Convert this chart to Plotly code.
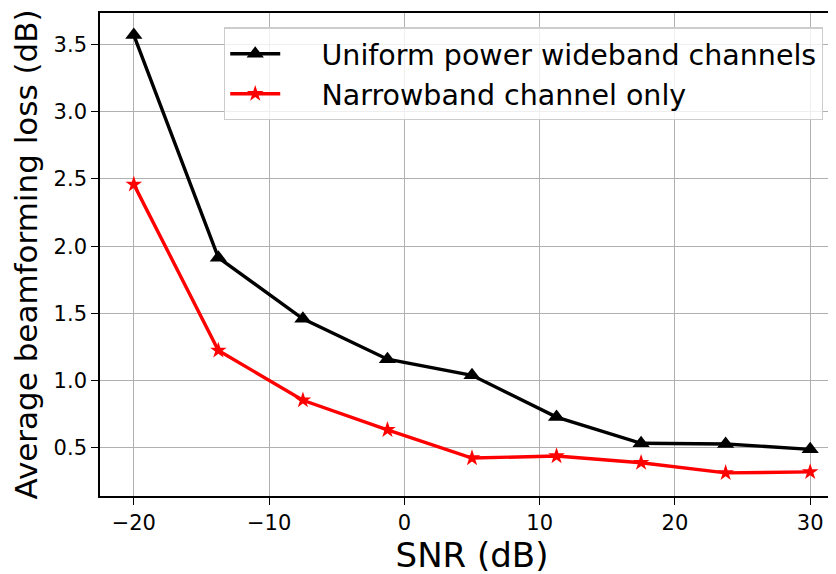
import plotly.graph_objects as go

snr = [-20, -13.75, -7.5, -1.25, 5, 11.25, 17.5, 23.75, 30]
uniform_wideband = [3.57, 1.915, 1.46, 1.16, 1.04, 0.73, 0.535, 0.53, 0.49]
narrowband_only = [2.46, 1.225, 0.855, 0.635, 0.425, 0.44, 0.39, 0.315, 0.322]

series_names = ["Uniform power wideband channels", "Narrowband channel only"]

x_ticks = [-20, -10, 0, 10, 20, 30]
y_ticks = [0.5, 1.0, 1.5, 2.0, 2.5, 3.0, 3.5]

FONT = "DejaVu Sans"
PAD = "&nbsp;&nbsp;&nbsp;&nbsp;"

fig = go.Figure()
fig.add_trace(go.Scatter(
    x=snr, y=uniform_wideband, mode="lines+markers",
    name=PAD + series_names[0],
    line=dict(color="black", width=3.4),
    marker=dict(symbol="triangle-up", size=15, color="black"),
))
fig.add_trace(go.Scatter(
    x=snr, y=narrowband_only, mode="lines+markers",
    name=PAD + series_names[1],
    line=dict(color="#ff0000", width=3.4),
    marker=dict(symbol="star", size=12.5, color="#ff0000"),
))

axis_common = dict(
    showgrid=True, gridcolor="#b0b0b0", gridwidth=1.3,
    showline=True, linecolor="black", linewidth=1.6,
    ticks="outside", ticklen=7, tickwidth=1.3, tickcolor="black",
    tickfont=dict(family=FONT, size=21, color="black"),
    zeroline=False, automargin=False,
)

fig.update_layout(
    width=836, height=574,
    margin=dict(l=92, r=0, t=5, b=86),
    paper_bgcolor="white", plot_bgcolor="white",
    font=dict(family=FONT, color="black"),
    xaxis=dict(
        **axis_common,
        range=[-22.5, 32.5],
        tickvals=x_ticks,
        ticktext=[("\u2212" + str(abs(v))) if v < 0 else str(v) for v in x_ticks],
        mirror=True,
        title=dict(text="SNR (dB)", font=dict(family=FONT, size=34, color="black"), standoff=4),
    ),
    yaxis=dict(
        **axis_common,
        range=[0.143, 3.734],
        tickvals=y_ticks,
        ticktext=[f"{v:.1f}" for v in y_ticks],
        title=dict(text="Average beamforming loss (dB)", font=dict(family=FONT, size=31, color="black"), standoff=8),
    ),
    legend=dict(
        x=0.1667, y=0.970, xanchor="left", yanchor="top",
        bgcolor="rgba(255,255,255,0.8)", bordercolor="#cccccc", borderwidth=1.2,
        font=dict(family=FONT, size=28.5, color="black"),
        tracegroupgap=0, itemwidth=50,
    ),
    showlegend=True,
)

fig.write_html("out.html")
